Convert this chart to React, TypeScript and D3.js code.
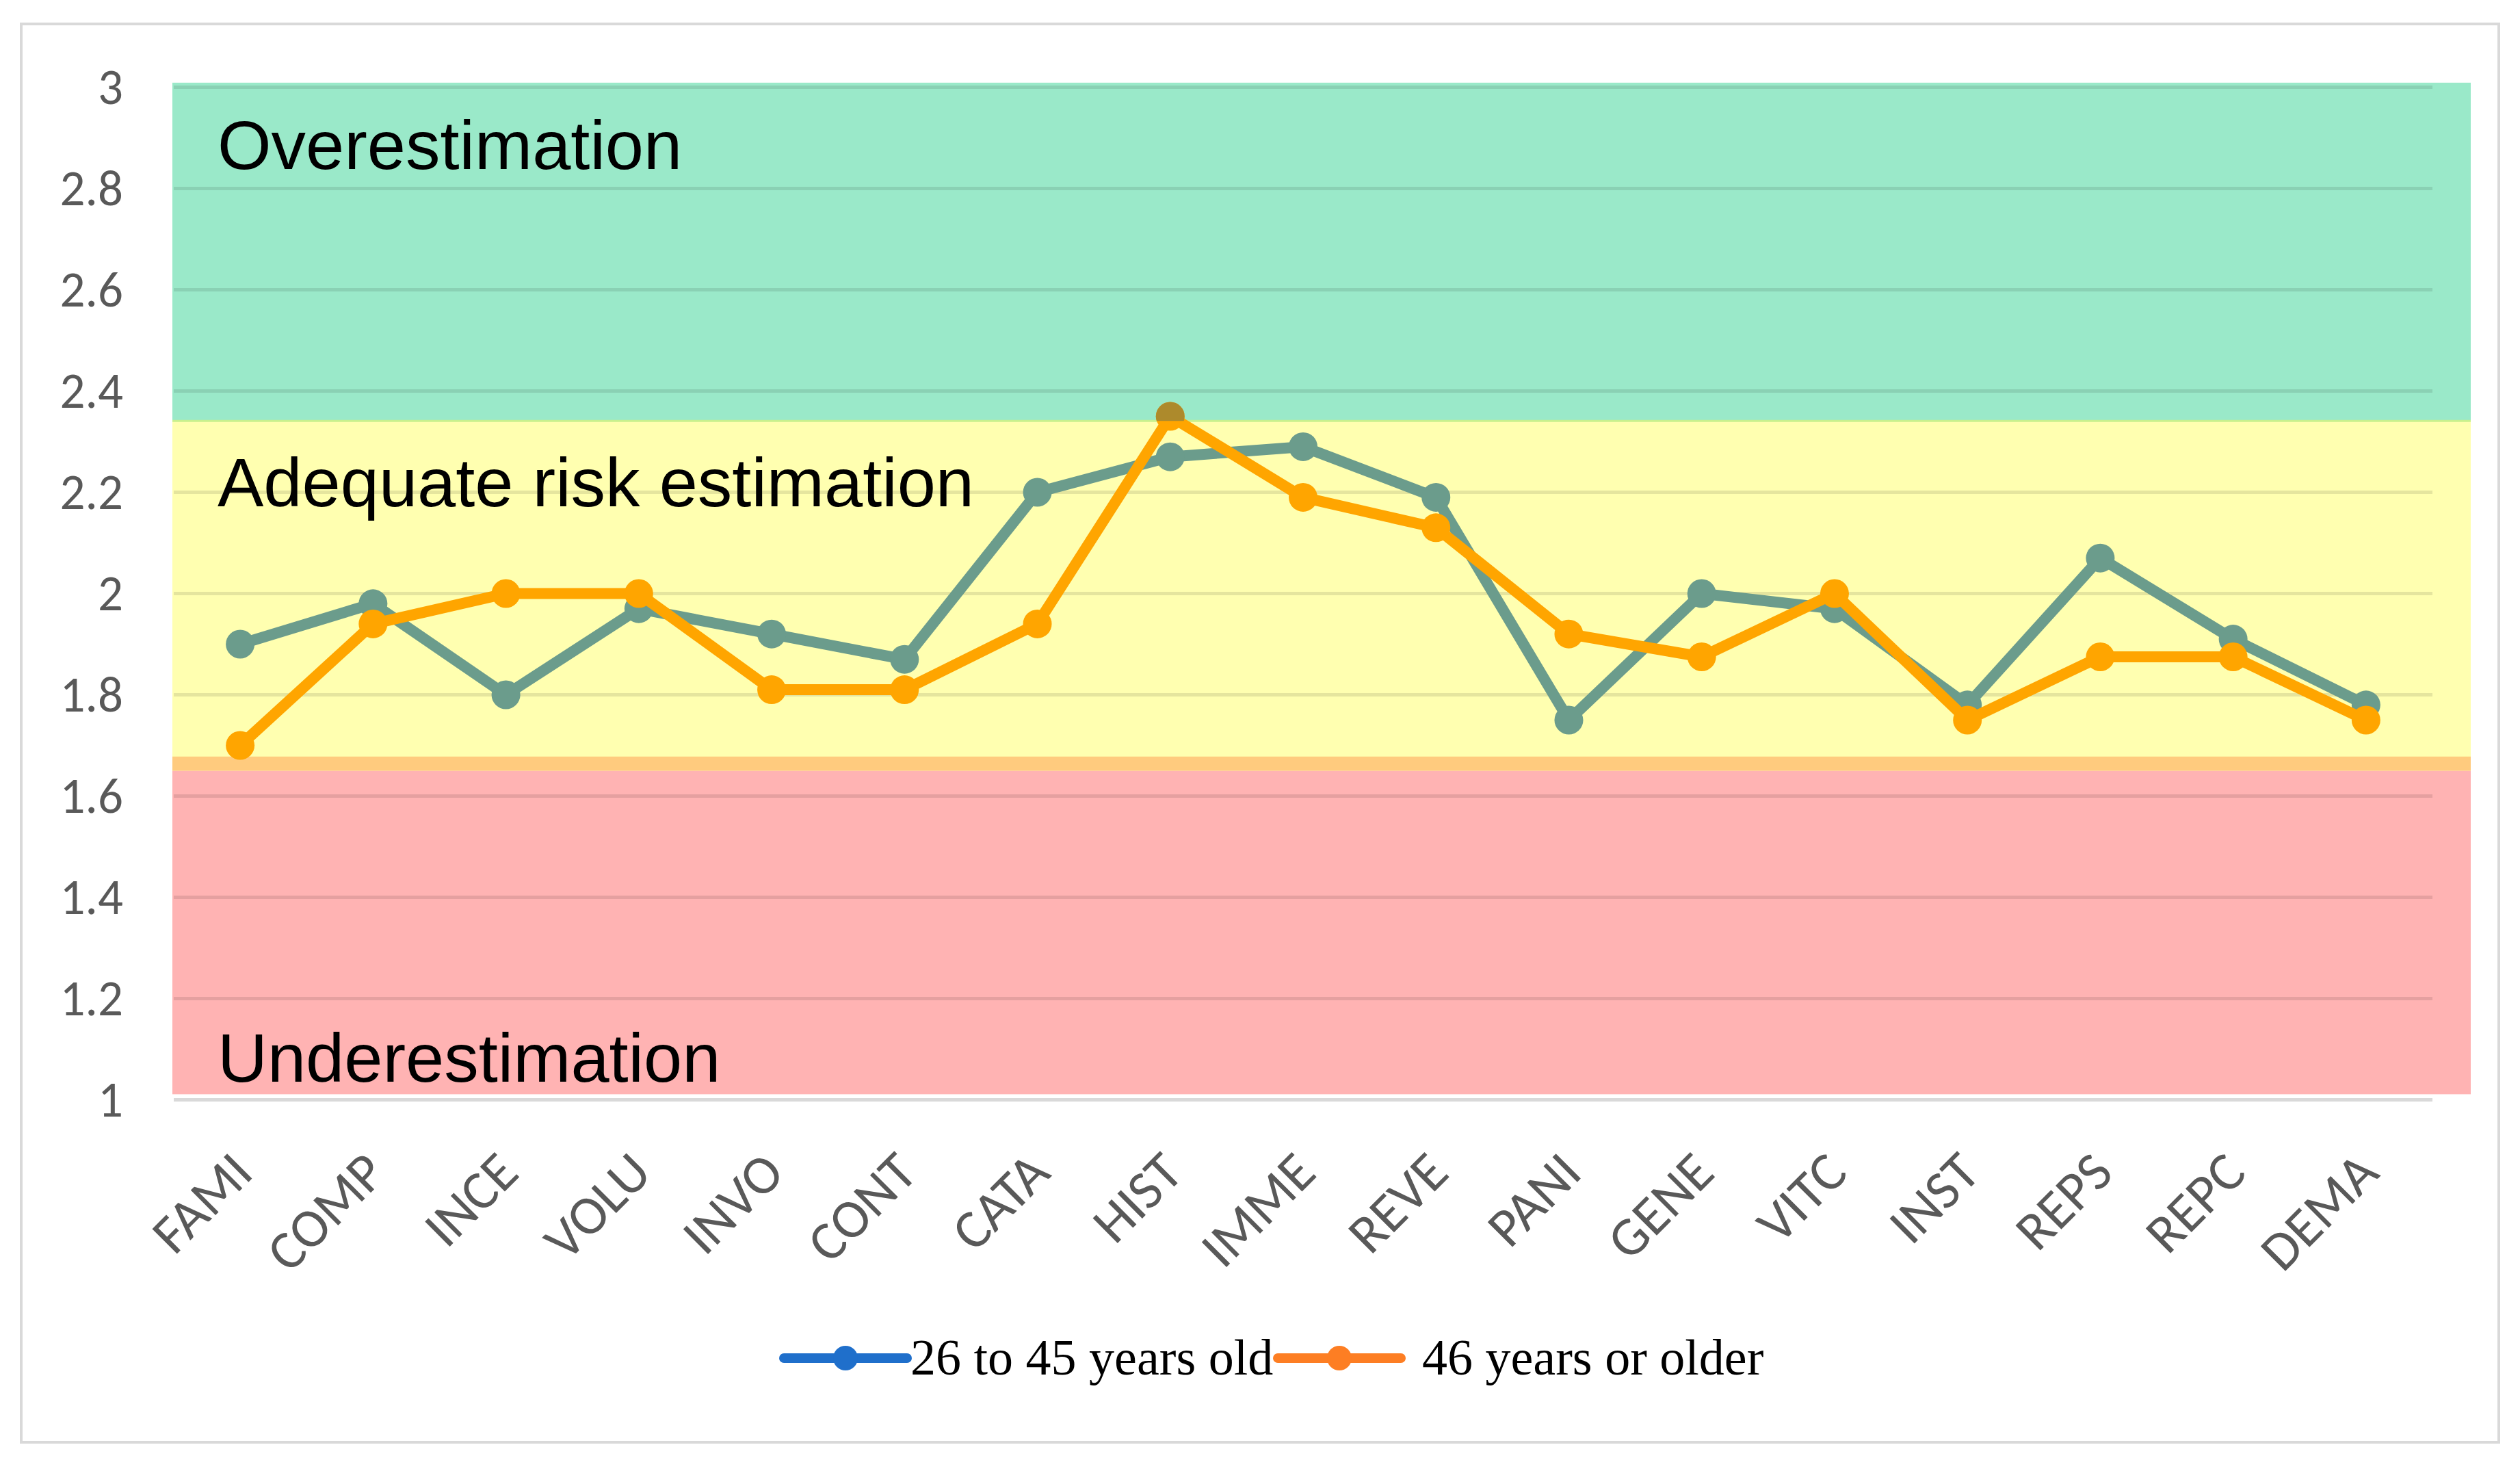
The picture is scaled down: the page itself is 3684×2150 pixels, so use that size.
import * as d3 from 'd3';

const categories = ['FAMI', 'COMP', 'INCE', 'VOLU', 'INVO', 'CONT', 'CATA', 'HIST', 'IMME', 'REVE', 'PANI', 'GENE', 'VITC', 'INST', 'REPS', 'REPC', 'DEMA'];
const age26to45 = [1.9, 1.98, 1.8, 1.97, 1.92, 1.87, 2.2, 2.27, 2.29, 2.19, 1.75, 2.0, 1.97, 1.78, 2.07, 1.91, 1.78];
const age46plus = [1.7, 1.94, 2.0, 2.0, 1.81, 1.81, 1.94, 2.35, 2.19, 2.13, 1.92, 1.875, 2.0, 1.75, 1.875, 1.875, 1.75];
const yTicks = [1, 1.2, 1.4, 1.6, 1.8, 2, 2.2, 2.4, 2.6, 2.8, 3];
const legendNames = ['26 to 45 years old', '46 years or older'];

// zones: [from, to] on the value axis
const zoneNames = ['Overestimation', 'Adequate risk estimation', 'Underestimation'];
const zoneRanges: [number, number][] = [[2.341, 3.009], [1.65, 2.341], [1.011, 1.65]];
const overlapRange: [number, number] = [1.65, 1.678];

const W = 3684;
const H = 2150;
const plot = { left: 254, right: 3556, top: 127.5, bottom: 1607.5, bandRight: 3612 };

const zoneColors = ['#9ae9c9', '#ffffb0', '#ffb3b3'];
const zoneLabelY = [247, 740, 1581];
const seriesColors = ['#6b9c8c', '#ffa500'];
const tintedColors = ['#5f8f7c', '#ad8a2c'];
const legendColors = ['#1f6fcb', '#fd7e23'];

export default function App() {
  const x = d3.scalePoint<string>().domain(categories).range([plot.left, plot.right]).padding(0.5);
  const y = d3.scaleLinear().domain([1, 3]).range([plot.bottom, plot.top]);

  const line = d3
    .line<number>()
    .x((_, i) => x(categories[i]) ?? 0)
    .y((d) => y(d));

  const series = [age26to45, age46plus];
  const bandX = plot.left - 2;
  const bandW = plot.bandRight - plot.left + 2;

  return (
    <svg
      width={W}
      height={H}
      style={{ position: 'absolute', left: 0, top: 0, background: '#fff' }}
    >
      <defs>
        <clipPath id="over-zone">
          <rect x={bandX} y={y(zoneRanges[0][1])} width={bandW} height={y(zoneRanges[0][0]) - y(zoneRanges[0][1])} />
        </clipPath>
      </defs>
      <rect x={31} y={35} width={3622} height={2073} fill="#fff" stroke="#d9d9d9" strokeWidth={4} />

      {/* zone bands */}
      {zoneRanges.map(([a, b], i) => (
        <rect key={i} x={bandX} y={y(b)} width={bandW} height={y(a) - y(b)} fill={zoneColors[i]} />
      ))}
      <rect
        x={bandX}
        y={y(overlapRange[1])}
        width={bandW}
        height={y(overlapRange[0]) - y(overlapRange[1])}
        fill="#ffcb7e"
      />
      <line
        x1={bandX}
        x2={bandX + bandW}
        y1={y(zoneRanges[0][0])}
        y2={y(zoneRanges[0][0])}
        stroke="#c8f08e"
        strokeWidth={3}
      />

      {/* gridlines */}
      {yTicks.slice(1).map((t) => (
        <line
          key={t}
          x1={plot.left}
          x2={plot.right}
          y1={y(t)}
          y2={y(t)}
          stroke="#000"
          strokeOpacity={0.1}
          strokeWidth={5}
        />
      ))}
      <line x1={plot.left} x2={plot.right} y1={y(1)} y2={y(1)} stroke="#d9d9d9" strokeWidth={5} />

      {/* y tick labels */}
      {yTicks.map((t) => (
        <text
          key={t}
          x={180}
          y={y(t)}
          dy="0.34em"
          textAnchor="end"
          fontFamily="Carlito, 'Open Sans', sans-serif"
          fontSize={73}
          fill="#595959"
        >
          {d3.format('~g')(t)}
        </text>
      ))}

      {/* x tick labels */}
      {categories.map((c) => (
        <text
          key={c}
          transform={`translate(${(x(c) ?? 0) + 22},1718) rotate(-45)`}
          textAnchor="end"
          fontFamily="Carlito, 'Open Sans', sans-serif"
          fontSize={80}
          fill="#595959"
        >
          {c}
        </text>
      ))}

      {/* zone labels */}
      {zoneNames.map((n, i) => (
        <text
          key={n}
          x={318}
          y={zoneLabelY[i]}
          fontFamily="'Liberation Sans', Arial, sans-serif"
          fontSize={101}
          fill="#000"
        >
          {n}
        </text>
      ))}

      {/* series */}
      {series.map((s, si) => (
        <g key={si}>
          <path d={line(s) ?? ''} fill="none" stroke={seriesColors[si]} strokeWidth={16} strokeLinejoin="round" />
          {s.map((v, i) => (
            <circle key={i} cx={x(categories[i])} cy={y(v)} r={21} fill={seriesColors[si]} />
          ))}
          <g clipPath="url(#over-zone)">
            {s.map((v, i) => (
              <circle key={i} cx={x(categories[i])} cy={y(v)} r={21} fill={tintedColors[si]} />
            ))}
          </g>
        </g>
      ))}

      {/* legend */}
      {legendNames.map((n, i) => {
        const x0 = [1146, 1868][i];
        const tx = [1331, 2079][i];
        return (
          <g key={n}>
            <line x1={x0} x2={x0 + 180} y1={1985} y2={1985} stroke={legendColors[i]} strokeWidth={14} strokeLinecap="round" />
            <circle cx={x0 + 90} cy={1985} r={18} fill={legendColors[i]} />
            <text
              x={tx}
              y={2009}
              fontFamily="'Liberation Serif', 'Times New Roman', serif"
              fontSize={74}
              fill="#000"
            >
              {n}
            </text>
          </g>
        );
      })}
    </svg>
  );
}
